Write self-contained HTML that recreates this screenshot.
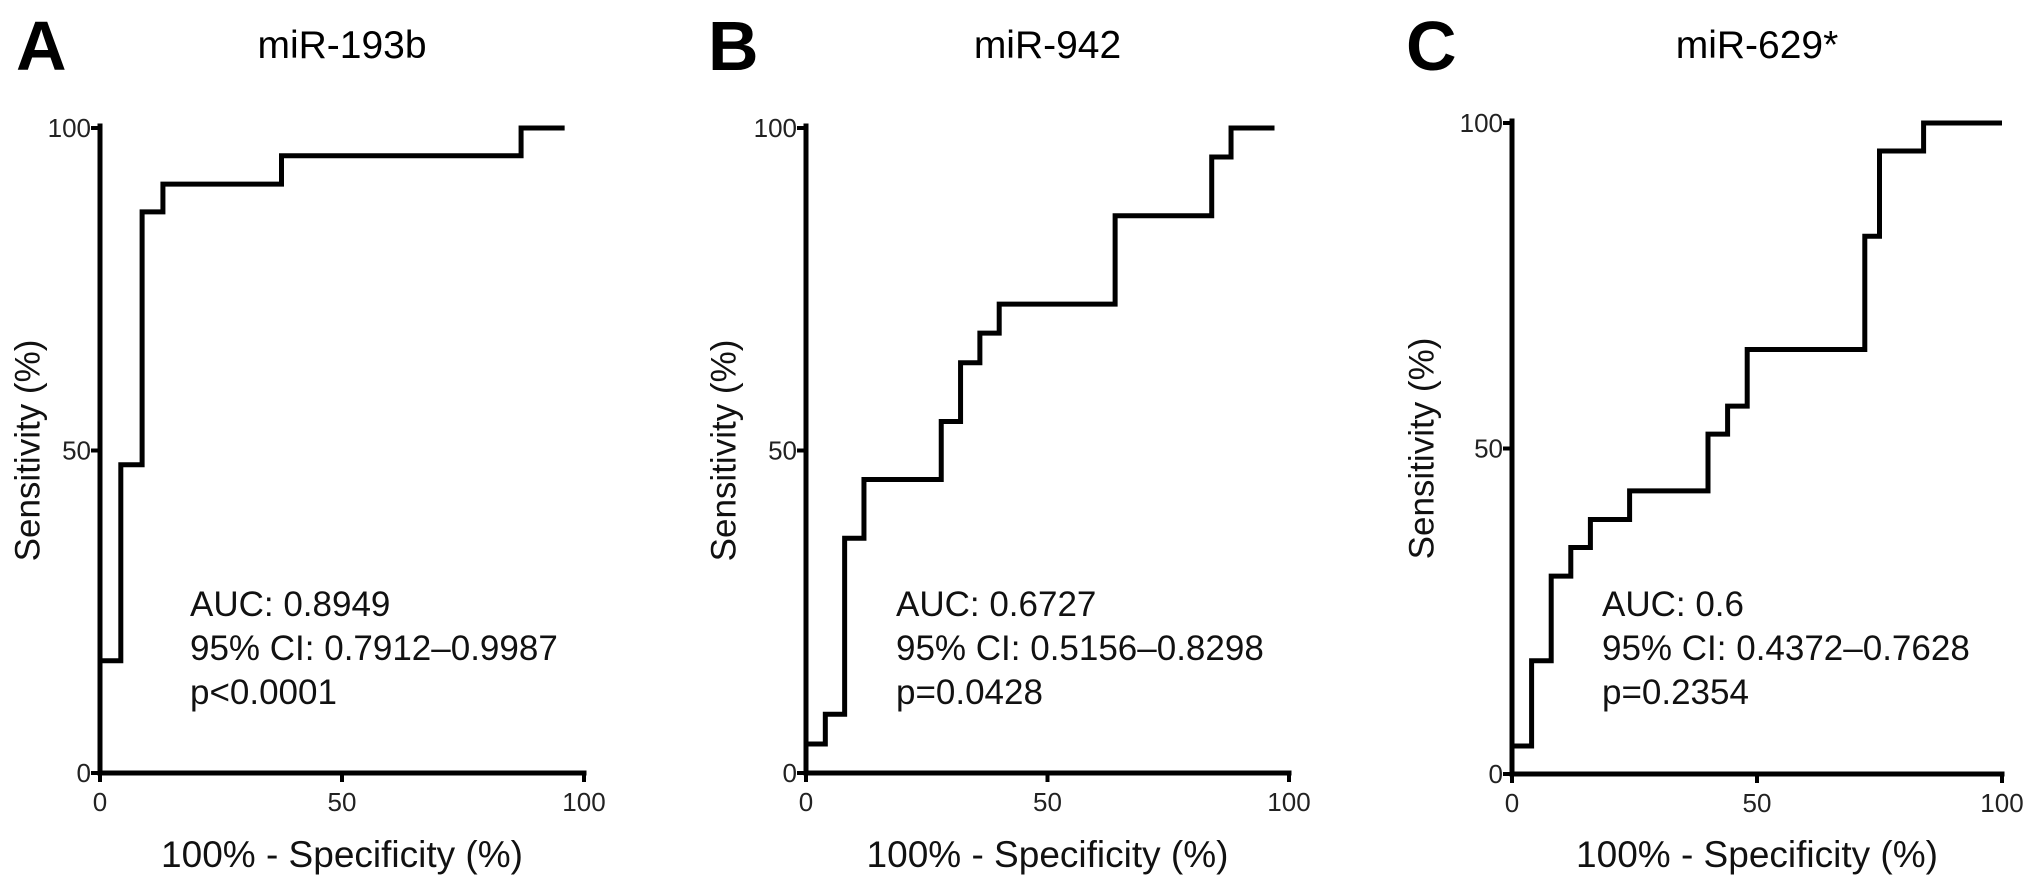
<!DOCTYPE html>
<html><head><meta charset="utf-8"><style>
html,body{margin:0;padding:0;background:#fff;}
svg{display:block;font-family:"Liberation Sans",Arial,sans-serif;}
</style></head><body>
<svg id="fig" width="2031" height="885" viewBox="0 0 2031 885" xmlns="http://www.w3.org/2000/svg"></svg>
<script>
// Panel data (ROC step curves: fpr = 100% - specificity, tpr = sensitivity)
const panelTitles = ["miR-193b", "miR-942", "miR-629*"];
const panelLetters = ["A", "B", "C"];
const fprA = [0, 0, 4.3, 8.7, 13, 37.5, 87, 96];
const tprA = [0, 17.4, 47.8, 87, 91.3, 95.7, 100, 100];
const fprB = [0, 0, 4, 8, 12, 28, 32, 36, 40, 64, 84, 88, 97];
const tprB = [0, 4.5, 9.1, 36.4, 45.5, 54.5, 63.6, 68.2, 72.7, 86.4, 95.5, 100, 100];
const fprC = [0, 0, 4, 8, 12, 16, 24, 40, 44, 48, 72, 75, 84, 100];
const tprC = [0, 4.3, 17.4, 30.4, 34.8, 39.1, 43.5, 52.2, 56.5, 65.2, 82.6, 95.7, 100, 100];
const statsA = ["AUC: 0.8949", "95% CI: 0.7912\u20130.9987", "p<0.0001"];
const statsB = ["AUC: 0.6727", "95% CI: 0.5156\u20130.8298", "p=0.0428"];
const statsC = ["AUC: 0.6", "95% CI: 0.4372\u20130.7628", "p=0.2354"];
const tickValues = [0, 50, 100];
const tickLabels = ["0", "50", "100"];

const NS = "http://www.w3.org/2000/svg";
const svg = document.getElementById("fig");
function mk(tag, attrs, parent) {
  const e = document.createElementNS(NS, tag);
  for (const k in attrs) e.setAttribute(k, attrs[k]);
  (parent || svg).appendChild(e);
  return e;
}
const layout = [
  {x0: 100, x1: 584, y0: 773, y1: 128, letterX: 16, ytitleX: 30},
  {x0: 806, x1: 1289, y0: 773, y1: 128, letterX: 708, ytitleX: 726},
  {x0: 1512, x1: 2002, y0: 774, y1: 123, letterX: 1406, ytitleX: 1424}
];
const fprs = [fprA, fprB, fprC], tprs = [tprA, tprB, tprC], stats = [statsA, statsB, statsC];

layout.forEach((L, p) => {
  const g = mk("g", {});
  
  
  const sx = v => L.x0 + (L.x1 - L.x0) * v / 100;
  const sy = v => L.y0 + (L.y1 - L.y0) * v / 100;
  const cx = (L.x0 + L.x1) / 2;

  const letter = mk("text", {x: L.letterX, y: 70, "font-size": 70, "font-weight": "bold", fill: "#000"}, g);
  letter.textContent = panelLetters[p];
  
  

  const title = mk("text", {x: cx, y: 58, "font-size": 39, "text-anchor": "middle", fill: "#000"}, g);
  title.textContent = panelTitles[p];
  
  

  const ax = mk("path", {d: `M${L.x0},${sy(100)-2} V${L.y0} H${sx(100)}`, stroke: "#000", "stroke-width": 5, fill: "none", "stroke-linecap": "square"}, g);
  
  

  tickValues.forEach((v, i) => {
    const yt = mk("line", {x1: L.x0 - 9, x2: L.x0, y1: sy(v), y2: sy(v), stroke: "#000", "stroke-width": 4}, g);
    
    
    const yl = mk("text", {x: L.x0 - 9, y: sy(v) + 9, "font-size": 26, "text-anchor": "end", fill: "#222"}, g);
    yl.textContent = tickLabels[i];
    
    
    const xt = mk("line", {x1: sx(v), x2: sx(v), y1: L.y0, y2: L.y0 + 9, stroke: "#000", "stroke-width": 4}, g);
    
    
    const xl = mk("text", {x: sx(v), y: L.y0 + 38, "font-size": 26, "text-anchor": "middle", fill: "#222"}, g);
    xl.textContent = tickLabels[i];
    
    
  });

  const xtitle = mk("text", {x: cx, y: 867, "font-size": 37, "text-anchor": "middle", fill: "#111"}, g);
  xtitle.textContent = "100% - Specificity (%)";
  
  

  const ymid = (L.y0 + L.y1) / 2;
  const ytitle = mk("text", {x: L.ytitleX, y: ymid, "font-size": 35, "text-anchor": "middle", fill: "#111",
    transform: `rotate(-90 ${L.ytitleX} ${ymid})`, "dominant-baseline": "middle"}, g);
  ytitle.textContent = "Sensitivity (%)";
  
  

  const f = fprs[p], t = tprs[p];
  let d = `M${sx(f[0])},${sy(t[0])}`;
  for (let i = 1; i < f.length; i++) d += ` H${sx(f[i])} V${sy(t[i])}`;
  const curve = mk("path", {d: d, stroke: "#000", "stroke-width": 5, fill: "none", "stroke-linejoin": "miter"}, g);
  
  

  const sxs = L.x0 + 90;
  stats[p].forEach((s, i) => {
    const st = mk("text", {x: sxs, y: 616 + i * 44, "font-size": 35, fill: "#111"}, g);
    st.textContent = s;
    
    
  });
});
</script>
</body></html>
